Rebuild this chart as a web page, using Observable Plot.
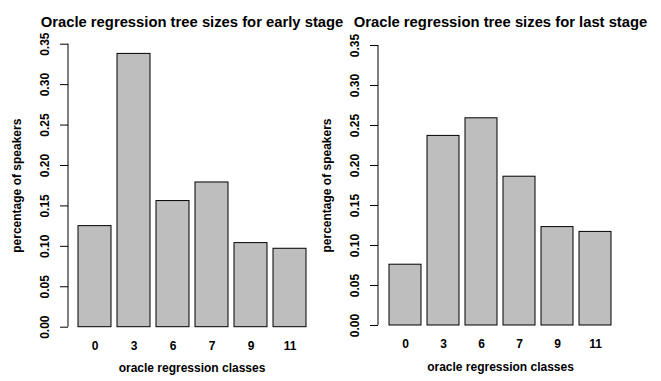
<!DOCTYPE html>
<html>
<head>
<meta charset="utf-8">
<script src="https://cdn.jsdelivr.net/npm/d3@7"></script>
<script src="https://cdn.jsdelivr.net/npm/@observablehq/plot@0.6"></script>
<style>
  html, body { margin: 0; padding: 0; background: #fff; }
  #wrap { position: relative; width: 661px; height: 381px; overflow: hidden; }
  #wrap svg { position: absolute; top: 0; overflow: visible; }
</style>
</head>
<body>
<div id="wrap"></div>
<script>
const classes = ["0", "3", "6", "7", "9", "11"];
const earlyValues = [0.125, 0.338, 0.156, 0.179, 0.104, 0.097];
const lastValues = [0.076, 0.237, 0.259, 0.186, 0.123, 0.117];
const yTicks = [0, 0.05, 0.10, 0.15, 0.20, 0.25, 0.30, 0.35];
const titles = ["Oracle regression tree sizes for early stage", "Oracle regression tree sizes for last stage"];
const xLabel = "oracle regression classes";
const yLabel = "percentage of speakers";

const FONT = "Liberation Sans, Arial, sans-serif";

function panel(values, title, opts) {
  const data = classes.map((c, i) => ({cls: c, val: values[i]}));
  const axisLine = (index, scales, vals, dims) => {
    const g = d3.create("svg:line")
      .attr("x1", dims.marginLeft).attr("x2", dims.marginLeft)
      .attr("y1", scales.y(0)).attr("y2", scales.y(0.35))
      .attr("stroke", "black").attr("stroke-width", 1);
    return g.node();
  };
  return Plot.plot({
    width: opts.width,
    height: 381,
    marginLeft: opts.marginLeft,
    marginRight: opts.marginRight,
    marginTop: opts.marginTop,
    marginBottom: opts.marginBottom,
    style: {fontFamily: FONT, background: "transparent", color: "black"},
    x: {domain: classes, paddingInner: 0.2 / 1.2, paddingOuter: 0.28 / 1.2, axis: null},
    y: {domain: [0, 0.35], axis: null},
    marks: [
      Plot.barY(data, {x: "cls", y: "val", fill: "#bebebe", stroke: "black", strokeWidth: 1}),
      Plot.axisY({ticks: yTicks, tickFormat: d3.format(".2f"), tickRotate: -90, tickSize: 8, tickPadding: 12,
        fontSize: 12, fontWeight: "bold", label: null}),
      axisLine,
      Plot.axisX({tickSize: 0, tickPadding: 14, fontSize: 12, fontWeight: "bold", label: null}),
      Plot.text([title], {frameAnchor: "top", dy: -(opts.marginTop - 16), text: d => d,
        fontSize: 14.8, fontWeight: "bold", fill: "black"}),
      Plot.text([xLabel], {frameAnchor: "bottom", dy: 45, text: d => d,
        fontSize: 12, fontWeight: "bold", fill: "black"}),
      Plot.text([yLabel], {frameAnchor: "left", textAnchor: "middle", dx: -51, rotate: -90, text: d => d,
        fontSize: 12, fontWeight: "bold", fill: "black"})
    ]
  });
}

const wrap = document.getElementById("wrap");
const left = panel(earlyValues, titles[0], {width: 330, marginLeft: 68, marginRight: 15, marginTop: 43.7, marginBottom: 381 - 326.7});
left.style.left = "0px";
const right = panel(lastValues, titles[1], {width: 351, marginLeft: 68, marginRight: 39, marginTop: 45, marginBottom: 381 - 325});
right.style.left = "310px";
wrap.appendChild(left);
wrap.appendChild(right);
</script>
</body>
</html>
